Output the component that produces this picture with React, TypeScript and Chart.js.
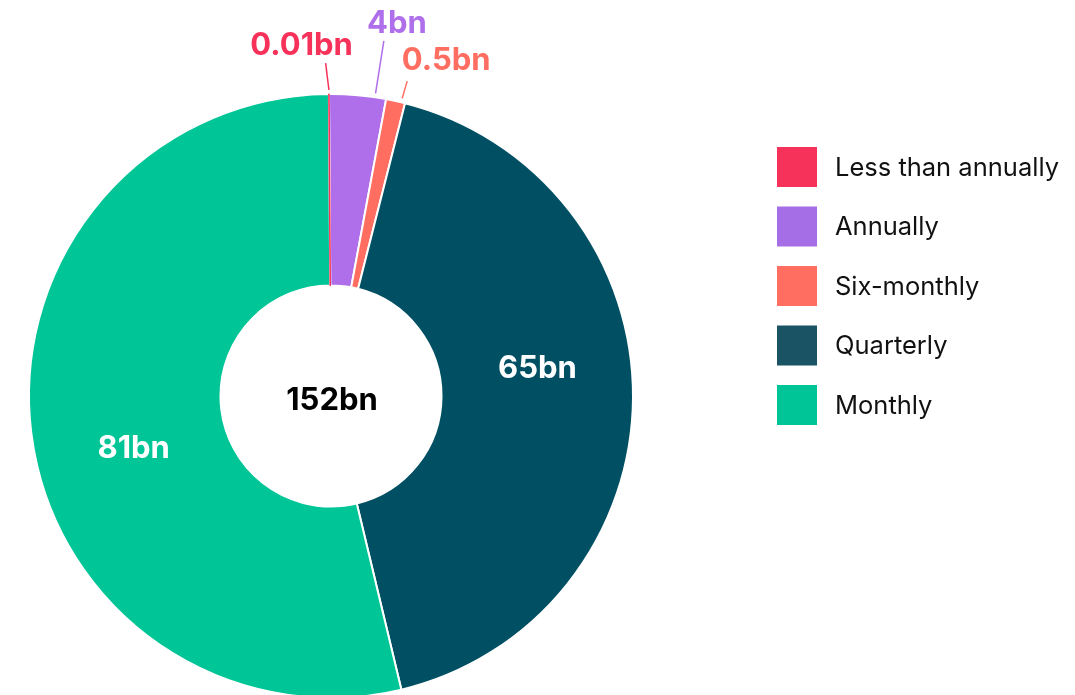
import React, { useEffect, useRef } from "react";
import { Chart, registerables } from "chart.js";

Chart.register(...registerables);

// ---- data ----
const categories = ["Less than annually", "Annually", "Six-monthly", "Quarterly", "Monthly"];
const values = [0.01, 4.6, 1.55, 64.3, 81.5];
const valueLabels = ["0.01bn", "4bn", "0.5bn", "65bn", "81bn"];
const totalLabel = "152bn";
const sliceColors = ["#F7325A", "#B06FEA", "#FF6E61", "#004F63", "#00C597"];
const legendColors = ["#F7325A", "#A66EE6", "#FF6E61", "#1A5464", "#00C597"];

const BOLD = "bold 31px Inter, 'Liberation Sans', sans-serif";

// leader-line label placement for the small slices (by slice index)
const outsideCfg: Record<number, { adj: number; dir: number; len: number; dx: number; dy: number }> = {
  0: { adj: 0, dir: -7, len: 27, dx: -24, dy: -18 },
  1: { adj: 3.3, dir: 9, len: 53, dx: 13, dy: -17 },
  2: { adj: 1.1, dir: 16, len: 18, dx: 39, dy: -20.5 },
};
const insideIdx = [3, 4];

const deg = Math.PI / 180;

const labelPlugin = {
  id: "sliceLabels",
  afterDatasetsDraw(chart: any) {
    const ctx = chart.ctx as CanvasRenderingContext2D;
    const meta = chart.getDatasetMeta(0);
    // bring the hairline slice to the front
    meta.data[0].draw(ctx);

    ctx.save();
    ctx.font = BOLD;
    ctx.textAlign = "center";
    ctx.textBaseline = "middle";
    meta.data.forEach((arc: any, i: number) => {
      const { x, y, startAngle, endAngle, innerRadius, outerRadius } = arc.getProps(
        ["x", "y", "startAngle", "endAngle", "innerRadius", "outerRadius"],
        true
      );
      // clock angle (deg clockwise from 12 o'clock)
      const mid = ((startAngle + endAngle) / 2) / deg + 90;
      const cfg = outsideCfg[i];
      if (cfg) {
        const a = (mid + cfg.adj) * deg;
        const r0 = outerRadius + 4;
        const sx = x + r0 * Math.sin(a);
        const sy = y - r0 * Math.cos(a);
        const d = cfg.dir * deg;
        const ex = sx + cfg.len * Math.sin(d);
        const ey = sy - cfg.len * Math.cos(d);
        ctx.strokeStyle = sliceColors[i];
        ctx.lineWidth = 1.5;
        ctx.beginPath();
        ctx.moveTo(sx, sy);
        ctx.lineTo(ex, ey);
        ctx.stroke();
        ctx.fillStyle = sliceColors[i];
        ctx.fillText(valueLabels[i], ex + cfg.dx, ey + cfg.dy);
      } else if (insideIdx.includes(i)) {
        const a = (mid - 8) * deg;
        const r = (innerRadius + outerRadius) / 2;
        ctx.fillStyle = "#ffffff";
        ctx.fillText(valueLabels[i], x + r * Math.sin(a) + 2, y - r * Math.cos(a));
      }
    });
    // total in the hole
    const c = meta.data[0];
    ctx.fillStyle = "#000000";
    ctx.fillText(totalLabel, c.x + 1, c.y + 5);
    ctx.restore();
  },
  afterDraw(chart: any) {
    const ctx = chart.ctx as CanvasRenderingContext2D;
    ctx.save();
    const x0 = 777;
    const y0 = 147;
    const step = 59.5;
    const box = 40;
    ctx.font = "25.5px Inter, 'Liberation Sans', sans-serif";
    ctx.textAlign = "left";
    ctx.textBaseline = "middle";
    categories.forEach((name, i) => {
      const y = y0 + i * step;
      ctx.fillStyle = legendColors[i];
      ctx.fillRect(x0, y, box, box);
      ctx.fillStyle = "#111111";
      ctx.fillText(name, 835, y + box / 2 + 1);
    });
    ctx.restore();
  },
};

export default function App() {
  const ref = useRef<HTMLCanvasElement | null>(null);
  useEffect(() => {
    if (!ref.current) return;
    const chart = new Chart(ref.current, {
      type: "doughnut",
      data: {
        labels: categories,
        datasets: [
          {
            data: values,
            backgroundColor: sliceColors,
            borderColor: ["#F7325A", "#ffffff", "#ffffff", "#ffffff", "#ffffff"],
            borderWidth: [1.5, 2, 2, 2, 2],
          },
        ],
      },
      options: {
        responsive: false,
        animation: false,
        events: [],
        rotation: -0.4,
        cutout: "36.6%",
        layout: { padding: { left: 28, right: 441, top: 93, bottom: 41 } },
        plugins: {
          legend: { display: false },
          tooltip: { enabled: false },
        },
      },
      plugins: [labelPlugin],
    });
    return () => chart.destroy();
  }, []);
  return (
    <div
      style={{
        position: "absolute",
        left: 0,
        top: 0,
        width: 1075,
        height: 695,
        overflow: "hidden",
        background: "#ffffff",
      }}
    >
      <canvas ref={ref} width={1075} height={740} style={{ display: "block" }} />
    </div>
  );
}
